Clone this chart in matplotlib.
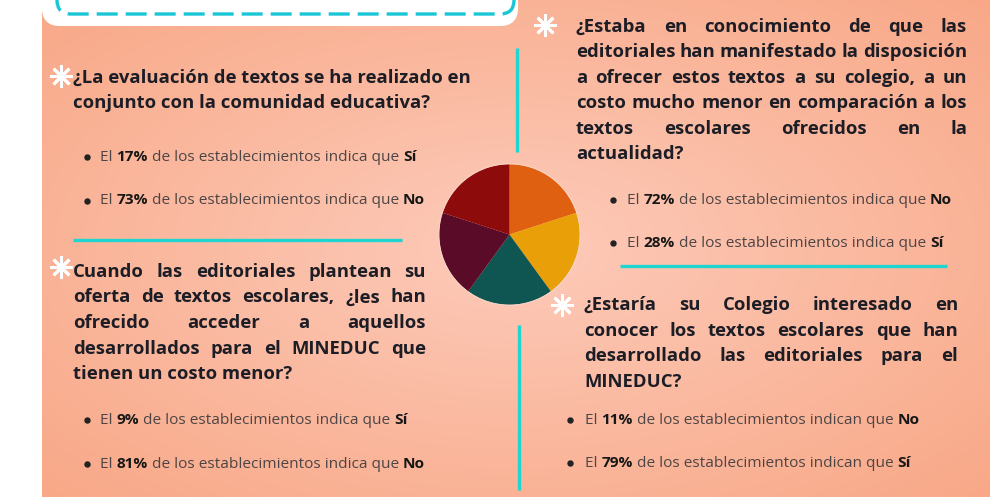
import numpy as np
import matplotlib.pyplot as plt
from matplotlib.patches import FancyBboxPatch, Circle

# ---- datos ----
pie_values = [20, 20, 20, 20, 20]
pie_colors = ['#df6010', '#e9a008', '#0f5552', '#5a0b28', '#8e0b0b']

q1_lines = ['¿La evaluación de textos se ha realizado en',
            'conjunto con la comunidad educativa?']
q1_pct = [17, 73]
q1_ans = ['Sí', 'No']

q2_lines = ['Cuando las editoriales plantean su',
            'oferta de textos escolares, ¿les han',
            'ofrecido acceder a aquellos',
            'desarrollados para el MINEDUC que',
            'tienen un costo menor?']
q2_pct = [9, 81]
q2_ans = ['Sí', 'No']

q3_lines = ['¿Estaba en conocimiento de que las',
            'editoriales han manifestado la disposición',
            'a ofrecer estos textos a su colegio, a un',
            'costo mucho menor en comparación a los',
            'textos escolares ofrecidos en la',
            'actualidad?']
q3_pct = [72, 28]
q3_ans = ['No', 'Sí']

q4_lines = ['¿Estaría su Colegio interesado en',
            'conocer los textos escolares que han',
            'desarrollado las editoriales para el',
            'MINEDUC?']
q4_pct = [11, 79]
q4_ans = ['No', 'Sí']

FONT = 'Open Sans'
TITLE_SIZE = 13.3
BULLET_SIZE = 11.1
TITLE_COLOR = '#1d1d26'
TEXT_COLOR = '#4d4545'
BOLD_COLOR = '#171717'
CYAN = '#1fd5cf'

fig = plt.figure(figsize=(10, 5.04), dpi=100)
ax = fig.add_axes([0, 0, 1, 1])
renderer = fig.canvas.get_renderer()

# fondo salmón con degradado radial
ny, nx = 200, 400
yy, xx = np.mgrid[0:1:ny * 1j, 0:1:nx * 1j]
d = np.clip(np.sqrt(((xx - 0.5) / 0.75) ** 2 + ((yy - 0.5) / 0.75) ** 2), 0, 1)
c_in = np.array([253, 203, 186]) / 255
c_out = np.array([248, 166, 132]) / 255
grad = c_in[None, None, :] * (1 - d[..., None]) + c_out[None, None, :] * d[..., None]
ax.imshow(grad, extent=(42, 990, 497, 0), zorder=0, interpolation='bilinear', aspect='auto')

# caja blanca superior con borde discontinuo
ax.add_patch(FancyBboxPatch((42, -60), 476, 86, boxstyle='round,pad=0,rounding_size=18',
                            fc='white', ec='none', zorder=1))
ax.add_patch(FancyBboxPatch((57, -60), 457, 74, boxstyle='round,pad=0,rounding_size=14',
                            fc='none', ec='#19c6d6', lw=2.4, ls=(0, (6.3, 2.4)), zorder=2))

# líneas cian
ax.plot([73, 402], [240, 240], color=CYAN, lw=2.4, solid_capstyle='butt', zorder=2)
ax.plot([517, 517], [48, 152], color=CYAN, lw=2.4, solid_capstyle='butt', zorder=2)
ax.plot([620, 947], [266, 266], color=CYAN, lw=2.4, solid_capstyle='butt', zorder=2)
ax.plot([519, 519], [325, 490], color=CYAN, lw=2.4, solid_capstyle='butt', zorder=2)

ax.set_xlim(0, 1000)
ax.set_ylim(504, 0)
ax.axis('off')


def adv(s, weight, size):
    t = ax.text(0, 0, '|' + s + '|', fontsize=size, fontweight=weight, family=FONT)
    w1 = t.get_window_extent(renderer).width
    t.set_text('||')
    w2 = t.get_window_extent(renderer).width
    t.remove()
    return w1 - w2


def title_block(lines, x0, x1, y0, dy, justify=True):
    for i, line in enumerate(lines):
        y = y0 + i * dy
        words = line.split()
        last = i == len(lines) - 1
        if not justify or last or len(words) == 1:
            ax.text(x0, y, line, fontsize=TITLE_SIZE, fontweight='bold', family=FONT,
                    color=TITLE_COLOR, ha='left', va='baseline', zorder=3)
            continue
        ws = [adv(w, 'bold', TITLE_SIZE) for w in words]
        gap = (x1 - x0 - sum(ws)) / (len(words) - 1)
        x = x0
        for w, wd in zip(words, ws):
            ax.text(x, y, w, fontsize=TITLE_SIZE, fontweight='bold', family=FONT,
                    color=TITLE_COLOR, ha='left', va='baseline', zorder=3)
            x += wd + gap


def bullet(xd, xt, y, pct, ans, verb):
    ax.plot([xd], [y - 4], marker='o', ms=3.6, color='#222222', zorder=3)
    runs = [('El ', 'normal', TEXT_COLOR), (f'{pct}%', 'bold', BOLD_COLOR),
            (f' de los establecimientos {verb} que ', 'normal', TEXT_COLOR),
            (ans, 'bold', BOLD_COLOR)]
    x = xt
    for s, wgt, col in runs:
        ax.text(x, y, s, fontsize=BULLET_SIZE, fontweight=wgt, family=FONT,
                color=col, ha='left', va='baseline', zorder=3)
        x += adv(s, wgt, BULLET_SIZE)


def star(x, y):
    ax.plot([x], [y], marker=(8, 2, 0), ms=16, mew=2.0, color='white', zorder=3)


# bloque 1
star(61, 76)
title_block(q1_lines, 73, 470, 82.5, 25.5, justify=False)
for k, (p, a) in enumerate(zip(q1_pct, q1_ans)):
    bullet(87, 100, 161 + k * 43.5, p, a, 'indica')

# bloque 2
star(61, 267)
title_block(q2_lines, 73, 426, 277, 25.5)
for k, (p, a) in enumerate(zip(q2_pct, q2_ans)):
    bullet(87, 100, 424 + k * 44, p, a, 'indica')

# bloque 3
star(545, 25)
title_block(q3_lines, 576, 967, 32, 25.4)
for k, (p, a) in enumerate(zip(q3_pct, q3_ans)):
    bullet(613, 627, 204 + k * 43, p, a, 'indica')

# bloque 4
star(562, 305)
title_block(q4_lines, 584, 958, 310, 25.7)
for k, (p, a) in enumerate(zip(q4_pct, q4_ans)):
    bullet(570, 585, 424 + k * 43, p, a, 'indican')

# gráfico circular
pax = fig.add_axes([437 / 1000, (504 - 307) / 504, 145 / 1000, 145 / 504])
pax.pie(pie_values, colors=pie_colors, startangle=90, counterclock=False,
        radius=0.97, wedgeprops=dict(linewidth=0))
pax.add_patch(Circle((0, 0), 0.975, fc='none', ec='#f7d3c4', lw=0.8, zorder=5))
pax.set_xlim(-1, 1)
pax.set_ylim(-1, 1)
pax.axis('off')

fig.savefig('out.png', dpi=100)
